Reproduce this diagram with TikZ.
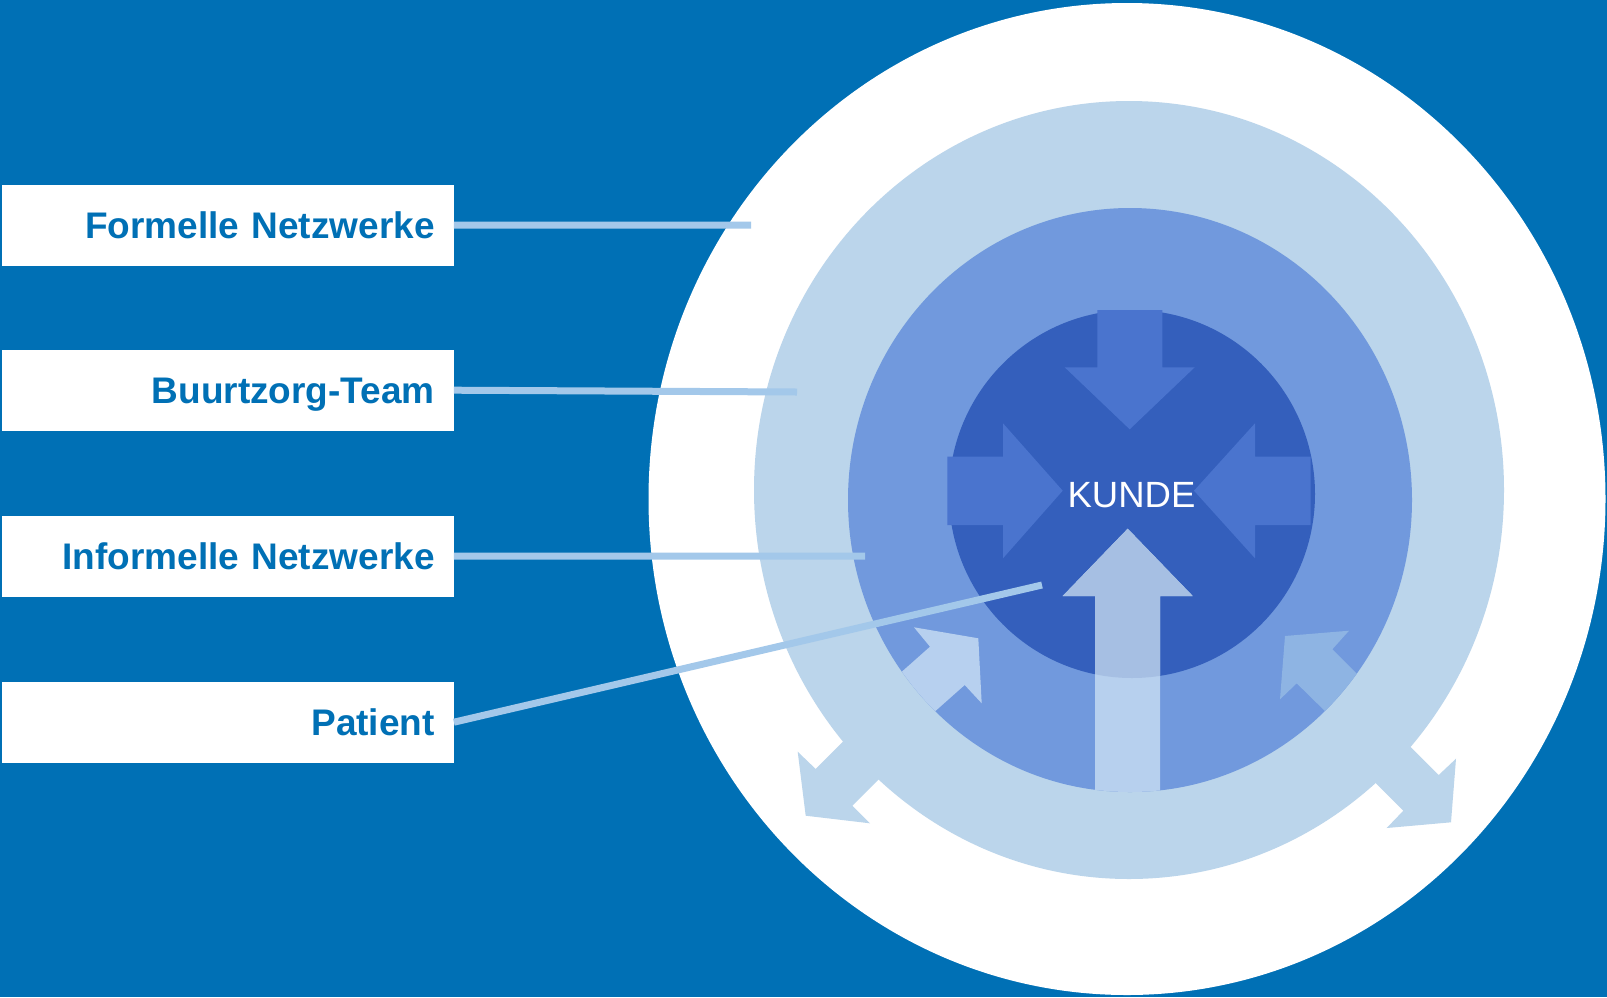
\documentclass[tikz,border=0pt]{standalone}
\usepackage{fontspec}
\setmainfont{Liberation Sans}
\definecolor{bgblue}{HTML}{0070B5}
\definecolor{ringlight}{HTML}{BBD5EB}
\definecolor{ringmid}{HTML}{7199DD}
\definecolor{core}{HTML}{345FBC}
\definecolor{corearrow}{HTML}{4A74CE}
\definecolor{uparrowin}{HTML}{A6BFE3}
\definecolor{uparrowout}{HTML}{B7D0EE}
\definecolor{llarrow}{HTML}{B7D0EF}
\definecolor{lrarrow}{HTML}{8EB4E3}
\definecolor{connline}{HTML}{A3C8EA}
\begin{document}
\begin{tikzpicture}[x=1pt,y=-1pt,
  labelbox/.style={fill=white, minimum width=452pt, minimum height=81pt,
    text width=414pt, inner xsep=19pt, inner ysep=0pt, align=right,
    text height=26.5pt, text depth=0pt,
    font=\fontsize{37}{40}\selectfont\bfseries, text=bgblue, anchor=north west},
  conn/.style={draw=connline, line width=7pt},
]
\fill[bgblue] (0,0) rectangle (1607,997);
\useasboundingbox (0,0) rectangle (1607,997);

% outer white disc
\fill[white] (1127,499) ellipse [x radius=478.5, y radius=496];

% outer arrows (pointing outward)
\fill[ringlight] (797.7,751.7) -- (815.7,769) -- (865.7,719) -- (902.3,755.7)
  -- (852.3,805.7) -- (870,823.3) -- (805.7,815.7) -- cycle;
\fill[ringlight] (1456,758.7) -- (1438.7,775) -- (1388.7,725) -- (1353.3,760.7)
  -- (1403.3,810.7) -- (1386.7,828) -- (1451,822.3) -- cycle;

% light ring
\fill[ringlight] (1129,490) ellipse [x radius=375, y radius=389];
% medium ring
\fill[ringmid] (1130,500) ellipse [x radius=282, y radius=292];

% small inner arrows (clipped by the medium disc)
\begin{scope}
  \clip (1130,500) ellipse [x radius=282, y radius=292];
  \fill[llarrow] (914,627.3) -- (978.3,638.3) -- (981.7,703.3) -- (964.7,685)
    -- (927.3,718.2) -- (892.6,679.9) -- (930,646.7) -- cycle;
  \fill[lrarrow] (1349,630.7) -- (1285,636) -- (1280,699.3) -- (1296.7,683.3)
    -- (1332,718) -- (1367,684) -- (1332.3,649.3) -- cycle;
\end{scope}

% core disc
\fill[core] (1132,494) ellipse [x radius=183, y radius=184];

% four-way arrows
\fill[corearrow] (1097.3,310) -- (1162.3,310) -- (1162.3,367.3) -- (1194.7,367.3)
  -- (1129.7,429.3) -- (1064.7,367.3) -- (1097.3,367.3) -- cycle;
\fill[corearrow] (947.3,456.7) -- (1003,456.7) -- (1003,423.3) -- (1062.7,490.7)
  -- (1003,558.3) -- (1003,525) -- (947.3,525) -- cycle;
\fill[corearrow] (1310.7,456.7) -- (1255,456.7) -- (1255,423.3) -- (1194,490.7)
  -- (1255,558.3) -- (1255,525) -- (1310.7,525) -- cycle;

% upward arrow
\begin{scope}
  \clip (1130,500) ellipse [x radius=282, y radius=292];
  \fill[uparrowout] (1127.7,528.7) -- (1192.7,596) -- (1160,596) -- (1160,800)
    -- (1095,800) -- (1095,596) -- (1062.7,596) -- cycle;
  \clip (1132,494) ellipse [x radius=183, y radius=184];
  \fill[uparrowin] (1127.7,528.7) -- (1192.7,596) -- (1160,596) -- (1160,800)
    -- (1095,800) -- (1095,596) -- (1062.7,596) -- cycle;
\end{scope}

\node[text=white, font=\fontsize{36.5}{40}\selectfont] (kunde) at (1131.5,494.7) {KUNDE};

% label boxes
\node[labelbox] (b1) at (1.5,184.5) {Formelle Netzwerke};
\node[labelbox] (b2) at (1.5,349.5) {Buurtzorg-Team};
\node[labelbox] (b3) at (1.5,515.5) {Informelle Netzwerke};
\node[labelbox] (b4) at (1.5,681.5) {Patient};

\coordinate (c1) at (751,225);
\coordinate (c2) at (797,392);
\coordinate (c3) at (865,556);
\coordinate (c4) at (1042,585);

\draw[conn] (b1.east) -- (c1);
\draw[conn] (b2.east) -- (c2);
\draw[conn] (b3.east) -- (c3);
\draw[conn] (b4.east) -- (c4);
\end{tikzpicture}
\end{document}
